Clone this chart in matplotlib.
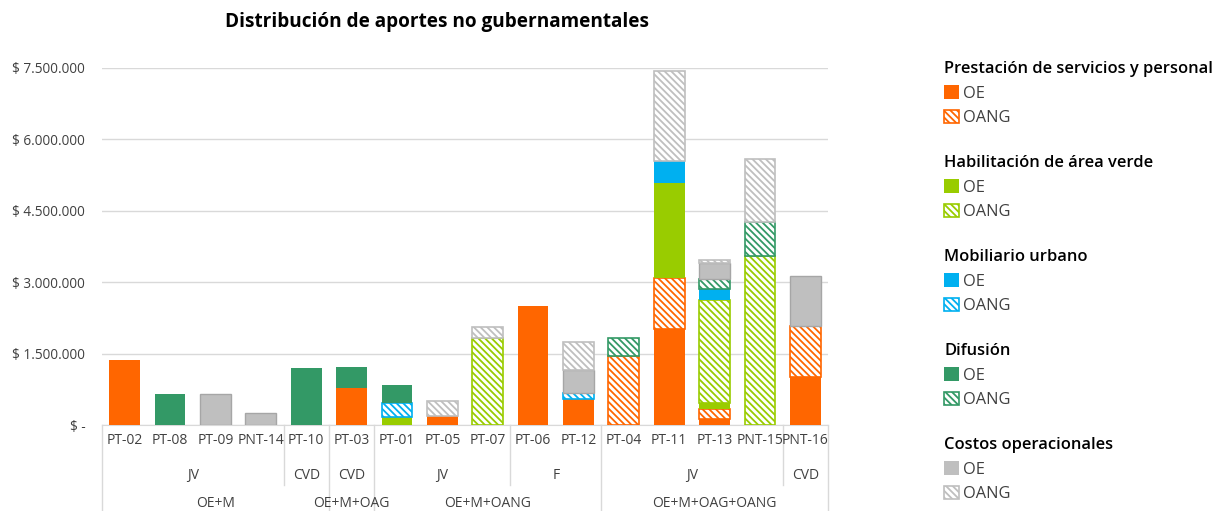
import numpy as np
import matplotlib.pyplot as plt
from matplotlib.patches import Patch
from matplotlib.ticker import FuncFormatter

plt.rcParams['font.family'] = ['Open Sans', 'DejaVu Sans']
plt.rcParams['hatch.linewidth'] = 1.3

# data
categories = ['PT-02', 'PT-08', 'PT-09', 'PNT-14', 'PT-10', 'PT-03', 'PT-01', 'PT-05',
              'PT-07', 'PT-06', 'PT-12', 'PT-04', 'PT-11', 'PT-13', 'PNT-15', 'PNT-16']
level2 = [('JV', 4), ('CVD', 1), ('CVD', 1), ('JV', 3), ('F', 2), ('JV', 4), ('CVD', 1)]
level3 = [('OE+M', 5), ('OE+M+OAG', 1), ('OE+M+OANG', 5), ('OE+M+OAG+OANG', 5)]

prest_oe   = [1370000, 0, 0, 0, 0, 780000, 0, 180000, 0, 2510000, 540000, 0, 2020000, 120000, 0, 1010000]
prest_oang = [0, 0, 0, 0, 0, 0, 0, 0, 0, 0, 0, 1450000, 1060000, 216000, 0, 1070000]
hab_oe     = [0, 0, 0, 0, 0, 0, 175000, 0, 0, 0, 0, 0, 2000000, 130000, 0, 0]
hab_oang   = [0, 0, 0, 0, 0, 0, 0, 0, 1820000, 0, 0, 0, 0, 2170000, 3560000, 0]
mob_oe     = [0, 0, 0, 0, 0, 0, 0, 0, 0, 0, 0, 0, 470000, 220000, 0, 0]
mob_oang   = [0, 0, 0, 0, 0, 0, 280000, 0, 0, 0, 140000, 0, 0, 0, 0, 0]
dif_oe     = [0, 660000, 0, 0, 1200000, 430000, 380000, 0, 0, 0, 0, 0, 0, 0, 0, 0]
dif_oang   = [0, 0, 0, 0, 0, 0, 0, 0, 0, 0, 0, 380000, 0, 210000, 710000, 0]
cost_oe    = [0, 0, 660000, 245000, 0, 0, 0, 0, 0, 0, 475000, 0, 0, 330000, 0, 1050000]
cost_oang  = [0, 0, 0, 0, 0, 0, 0, 320000, 230000, 0, 590000, 0, 1890000, 70000, 1310000, 0]

groups = ['Prestación de servicios y personal', 'Habilitación de área verde',
          'Mobiliario urbano', 'Difusión', 'Costos operacionales']
colors = ['#FF6600', '#99CC00', '#00B0F0', '#339966', '#BFBFBF']
values = [(prest_oe, prest_oang), (hab_oe, hab_oang), (mob_oe, mob_oang),
          (dif_oe, dif_oang), (cost_oe, cost_oang)]

HATCH = '\\\\\\\\\\'

fig = plt.figure(figsize=(12.16, 5.11), dpi=100)
ax = fig.add_axes([102 / 1216, 1 - 425 / 511, (828 - 102) / 1216, (425 - 68) / 511])

x = np.arange(len(categories))
bottom = np.zeros(len(categories))
width = 0.68

for g, col, (oe, oang) in zip(groups, colors, values):
    edge_oe = '#A6A6A6' if col == '#BFBFBF' else col
    for vals, hatched in ((oe, False), (oang, True)):
        v = np.array(vals, dtype=float)
        m = v > 0
        if hatched:
            ax.bar(x[m], v[m], width, bottom=bottom[m], facecolor='white',
                   edgecolor=col, hatch=HATCH, linewidth=1.2, zorder=3)
        else:
            ax.bar(x[m], v[m], width, bottom=bottom[m], color=col,
                   edgecolor=edge_oe, linewidth=1.0 if col == '#BFBFBF' else 0, zorder=3)
        bottom += v

ax.set_xlim(-0.5, len(categories) - 0.5)
ax.set_ylim(0, 7500000)
ax.set_yticks(np.arange(0, 7500001, 1500000))
ax.yaxis.set_major_formatter(FuncFormatter(
    lambda v, p: '$ -' if v == 0 else '$ ' + f'{v:,.0f}'.replace(',', '.')))
ax.tick_params(axis='y', length=0, pad=12, labelsize=9.8, labelcolor='#404040')
ax.set_xticks([])
ax.grid(axis='y', color='#D9D9D9', linewidth=1, zorder=0)
for s in ['top', 'right', 'left']:
    ax.spines[s].set_visible(False)
ax.spines['bottom'].set_color('#D9D9D9')

# hierarchical category axis
tr = ax.get_xaxis_transform()
axh = 357.0
for i, c in enumerate(categories):
    ax.text(i, -15 / axh, c, transform=tr, ha='center', va='center',
            fontsize=10, color='#404040')

full_bounds = [0]
pos = 0
for lab, n in level3:
    ax.text(pos + n / 2 - 0.5, -78 / axh, lab, transform=tr, ha='center', va='center',
            fontsize=10, color='#404040')
    pos += n
    full_bounds.append(pos)
pos = 0
short_bounds = []
for lab, n in level2:
    ax.text(pos + n / 2 - 0.5, -50 / axh, lab, transform=tr, ha='center', va='center',
            fontsize=10, color='#404040')
    pos += n
    if pos not in full_bounds:
        short_bounds.append(pos)
for b in full_bounds:
    ax.plot([b - 0.5, b - 0.5], [0, -90 / axh], transform=tr, color='#D9D9D9',
            linewidth=1, clip_on=False)
for b in short_bounds:
    ax.plot([b - 0.5, b - 0.5], [0, -60 / axh], transform=tr, color='#D9D9D9',
            linewidth=1, clip_on=False)

fig.text(437 / 1216, 1 - 22 / 511, 'Distribución de aportes no gubernamentales',
         ha='center', va='center', fontsize=13.7, fontweight='bold', color='#000000')

# legend, one block per group
for k, (g, col) in enumerate(zip(groups, colors)):
    handles = [Patch(facecolor=col, edgecolor=col, linewidth=0),
               Patch(facecolor='white', edgecolor=col, hatch=HATCH, linewidth=1.2)]
    leg = fig.legend(handles, ['OE', 'OANG'], title=g, loc='upper left',
                     bbox_to_anchor=(944 / 1216, 1 - (61 + 94 * k) / 511),
                     frameon=False, alignment='left', fontsize=11.8,
                     title_fontproperties={'size': 11.9, 'weight': 'semibold'},
                     handlelength=0.9, handleheight=0.9, handletextpad=0.25,
                     labelspacing=0.5, borderpad=0, borderaxespad=0)
    for t in leg.get_texts():
        t.set_color('#404040')

fig.savefig('out.png', dpi=100)
